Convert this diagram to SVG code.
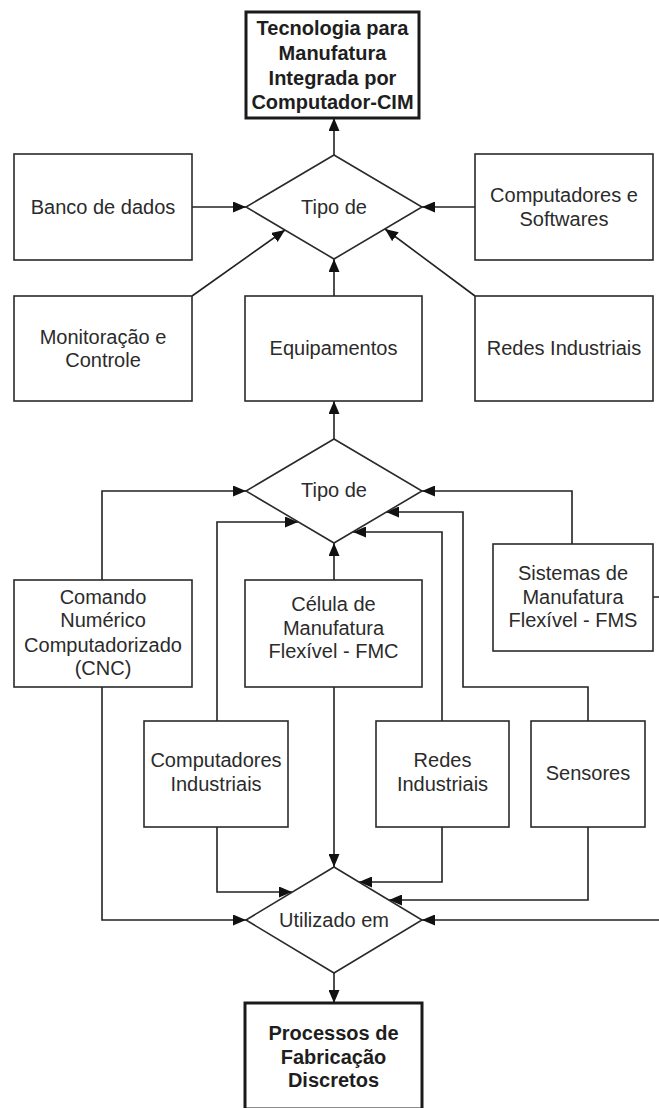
<svg xmlns="http://www.w3.org/2000/svg" width="659" height="1108" viewBox="0 0 659 1108">
  <style>
    .box { fill: #ffffff; stroke: #2a2a2a; stroke-width: 1.6; }
    .main { fill: #ffffff; stroke: #1a1a1a; stroke-width: 3; }
    .dec { fill: #ffffff; stroke: #2a2a2a; stroke-width: 1.6; }
    .lbl { font-family: "Liberation Sans", Arial, sans-serif; font-size: 20px; fill: #2b2b2b; text-anchor: middle; }
    .bold { font-weight: bold; fill: #1e1e1e; }
    .wire { fill: none; stroke: #222222; stroke-width: 1.6; marker-end: url(#arr); }
  </style>
  <defs>
    <marker id="arr" viewBox="0 0 13 11" refX="13" refY="5.5" markerWidth="13" markerHeight="11" markerUnits="userSpaceOnUse" orient="auto">
      <path d="M0,0 L13,5.5 L0,11 z" fill="#111111"/>
    </marker>
  </defs>
  <rect width="659" height="1108" fill="#ffffff"/>

  <!-- connectors -->
  <g id="connectors">
    <path class="wire" d="M334,155 L334,118"/>
    <path class="wire" d="M192,207 L246,207"/>
    <path class="wire" d="M475,207 L422,207"/>
    <path class="wire" d="M192,296 L285,230"/>
    <path class="wire" d="M475,296 L385,229"/>
    <path class="wire" d="M334,296 L334,259"/>
    <path class="wire" d="M334,439 L334,401"/>
    <path class="wire" d="M102,580 L102,491 L246,491"/>
    <path class="wire" d="M217,721 L217,522 L298,522"/>
    <path class="wire" d="M334,580 L334,543"/>
    <path class="wire" d="M442,721 L442,532 L353,532"/>
    <path class="wire" d="M588,721 L588,687 L463,687 L463,512 L386,512"/>
    <path class="wire" d="M572,544 L572,491 L422,491"/>
    <path class="wire" d="M102,687 L102,920 L246,920"/>
    <path class="wire" d="M217,827 L217,892 L292,892"/>
    <path class="wire" d="M334,687 L334,867"/>
    <path class="wire" d="M442,827 L442,882 L359,882"/>
    <path class="wire" d="M588,827 L588,900 L389,900"/>
    <path class="wire" d="M653,597 L668,597 L668,920 L422,920"/>
    <path class="wire" d="M334,973 L334,1003"/>
  </g>

  <g id="cim">
    <rect class="main" x="246" y="12" width="173" height="106"/>
    <text class="lbl bold" x="332.5" y="35">Tecnologia para</text>
    <text class="lbl bold" x="332.5" y="60">Manufatura</text>
    <text class="lbl bold" x="332.5" y="85">Integrada por</text>
    <text class="lbl bold" x="332.5" y="109">Computador-CIM</text>
  </g>

  <g id="tipo1">
    <polygon class="dec" points="334,155 422,207 334,259 246,207"/>
    <text class="lbl" x="334" y="214">Tipo de</text>
  </g>

  <g id="banco">
    <rect class="box" x="14" y="154" width="178" height="106"/>
    <text class="lbl" x="103" y="214">Banco de dados</text>
  </g>

  <g id="computadores">
    <rect class="box" x="475" y="154" width="178" height="106"/>
    <text class="lbl" x="564" y="202">Computadores e</text>
    <text class="lbl" x="564" y="226">Softwares</text>
  </g>

  <g id="monitoracao">
    <rect class="box" x="14" y="296" width="178" height="105"/>
    <text class="lbl" x="103" y="344">Monitoração e</text>
    <text class="lbl" x="103" y="367">Controle</text>
  </g>

  <g id="equipamentos">
    <rect class="box" x="245" y="296" width="177" height="105"/>
    <text class="lbl" x="333.5" y="355">Equipamentos</text>
  </g>

  <g id="redes1">
    <rect class="box" x="475" y="296" width="178" height="105"/>
    <text class="lbl" x="564" y="355">Redes Industriais</text>
  </g>

  <g id="tipo2">
    <polygon class="dec" points="334,439 422,491 334,543 246,491"/>
    <text class="lbl" x="334" y="497">Tipo de</text>
  </g>

  <g id="cnc">
    <rect class="box" x="14" y="580" width="178" height="107"/>
    <text class="lbl" x="103" y="604">Comando</text>
    <text class="lbl" x="103" y="627">Numérico</text>
    <text class="lbl" x="103" y="652">Computadorizado</text>
    <text class="lbl" x="103" y="675">(CNC)</text>
  </g>

  <g id="fmc">
    <rect class="box" x="245" y="580" width="177" height="107"/>
    <text class="lbl" x="333.5" y="611">Célula de</text>
    <text class="lbl" x="333.5" y="635">Manufatura</text>
    <text class="lbl" x="333.5" y="658">Flexível - FMC</text>
  </g>

  <g id="fms">
    <rect class="box" x="493" y="544" width="160" height="107"/>
    <text class="lbl" x="573" y="580">Sistemas de</text>
    <text class="lbl" x="573" y="604">Manufatura</text>
    <text class="lbl" x="573" y="627">Flexível - FMS</text>
  </g>

  <g id="comp-ind">
    <rect class="box" x="144" y="721" width="144" height="106"/>
    <text class="lbl" x="216" y="767">Computadores</text>
    <text class="lbl" x="216" y="791">Industriais</text>
  </g>

  <g id="redes2">
    <rect class="box" x="376" y="721" width="133" height="106"/>
    <text class="lbl" x="442.5" y="767">Redes</text>
    <text class="lbl" x="442.5" y="791">Industriais</text>
  </g>

  <g id="sensores">
    <rect class="box" x="531" y="721" width="114" height="106"/>
    <text class="lbl" x="588" y="780">Sensores</text>
  </g>

  <g id="utilizado">
    <polygon class="dec" points="334,867 422,920 334,973 246,920"/>
    <text class="lbl" x="334" y="927">Utilizado em</text>
  </g>

  <g id="processos">
    <rect class="main" x="245" y="1003" width="177" height="106"/>
    <text class="lbl bold" x="333.5" y="1040">Processos de</text>
    <text class="lbl bold" x="333.5" y="1064">Fabricação</text>
    <text class="lbl bold" x="333.5" y="1087">Discretos</text>
  </g>
</svg>
